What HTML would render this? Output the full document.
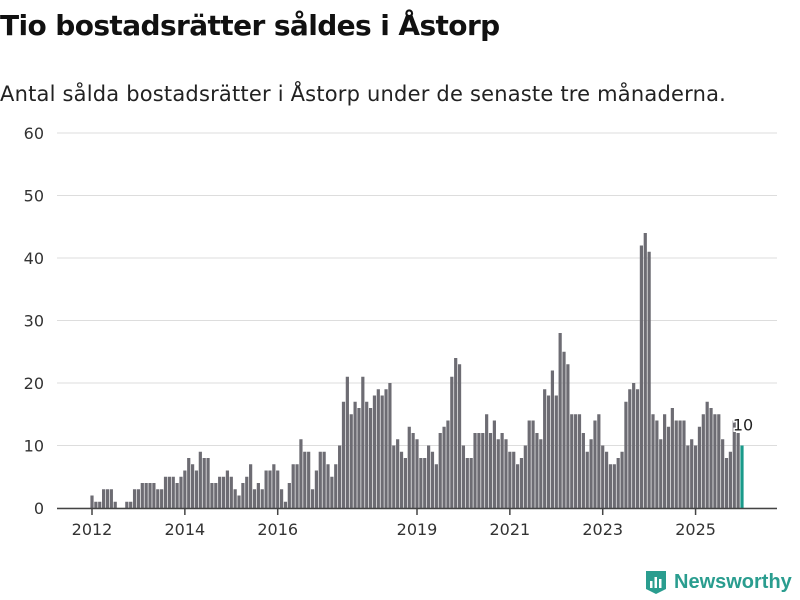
<!DOCTYPE html>
<html><head><meta charset="utf-8"><style>
body{margin:0;width:800px;height:600px;background:#fff;font-family:"Liberation Sans","DejaVu Sans",sans-serif;overflow:hidden;position:relative}
#title{position:absolute;left:0;top:9px;font-size:28px;font-weight:bold;color:#111;font-family:"DejaVu Sans",sans-serif;letter-spacing:-0.6px}
#sub{position:absolute;left:0;top:82px;font-size:21px;color:#222;font-family:"DejaVu Sans",sans-serif;letter-spacing:0.2px}
#logo{position:absolute;left:644px;top:569px;font-size:20px;font-weight:bold;color:#2a9d8f;display:flex;align-items:center;gap:6px}
</style></head><body>
<div id="title">Tio bostadsrätter såldes i Åstorp</div>
<div id="sub">Antal sålda bostadsrätter i Åstorp under de senaste tre månaderna.</div>
<svg id="chart" width="800" height="600" style="position:absolute;left:0;top:0"></svg>
<div id="logo"><svg width="24" height="26" viewBox="0 0 24 26"><path d="M2 2h20v18l-10 5-10-5z" fill="#2a9d8f"/><rect x="6" y="12" width="2.5" height="7" fill="#fff"/><rect x="10.5" y="8" width="2.5" height="11" fill="#fff"/><rect x="15" y="10" width="2.5" height="9" fill="#fff"/></svg><span>Newsworthy</span></div>
<script>
const values=[2,1,1,3,3,3,1,0,0,1,1,3,3,4,4,4,4,3,3,5,5,5,4,5,6,8,7,6,9,8,8,4,4,5,5,6,5,3,2,4,5,7,3,4,3,6,6,7,6,3,1,4,7,7,11,9,9,3,6,9,9,7,5,7,10,17,21,15,17,16,21,17,16,18,19,18,19,20,10,11,9,8,13,12,11,8,8,10,9,7,12,13,14,21,24,23,10,8,8,12,12,12,15,12,14,11,12,11,9,9,7,8,10,14,14,12,11,19,18,22,18,28,25,23,15,15,15,12,9,11,14,15,10,9,7,7,8,9,17,19,20,19,42,44,41,15,14,11,15,13,16,14,14,14,10,11,10,13,15,17,16,15,15,11,8,9,14,12,10];
const yTicks=[0,10,20,30,40,50,60];
const xTickLabels=["2012","2014","2016","2019","2021","2023","2025"];
const xTickIndex=[0,24,48,84,108,132,156];
const svg=document.getElementById('chart');
const NS='http://www.w3.org/2000/svg';
const step=650/168;
const x=i=>92+i*step;
const y=v=>508-v*6.25;
function mk(t,a){const e=document.createElementNS(NS,t);for(const k in a)e.setAttribute(k,a[k]);svg.appendChild(e);return e;}
yTicks.forEach(t=>{
 const g=mk('line',{x1:57,x2:777,y1:y(t),y2:y(t),stroke:'#dddddd','stroke-width':1});
 
 
 const l=mk('text',{x:44,y:y(t)+6,'text-anchor':'end','font-size':16,fill:'#333','font-family':'DejaVu Sans, sans-serif'});
 l.textContent=t;
 
 
});
values.forEach((v,i)=>{
 const last=i===values.length-1;
 const r=mk('rect',{x:x(i)-1.6,y:y(v),width:3.2,height:v*6.25,fill:last?'#1a9a8a':'#6d6c73'});
 
 
});
const ax=mk('line',{x1:57,x2:777,y1:508.5,y2:508.5,stroke:'#444','stroke-width':1.5});


xTickIndex.forEach((idx,k)=>{
 const t=mk('line',{x1:x(idx),x2:x(idx),y1:508,y2:515,stroke:'#444','stroke-width':1.5});
 
 
 const l=mk('text',{x:x(idx),y:535,'text-anchor':'middle','font-size':16,fill:'#333','font-family':'DejaVu Sans, sans-serif'});
 l.textContent=xTickLabels[k];
 
 
});
const li=values.length-1;
const lab=mk('text',{x:x(li)+1,y:y(values[li])-15,'text-anchor':'middle','font-size':16,fill:'#222',stroke:'#fff','stroke-width':3,'paint-order':'stroke','font-family':'DejaVu Sans, sans-serif'});
lab.textContent=values[li];


</script>
</body></html>
